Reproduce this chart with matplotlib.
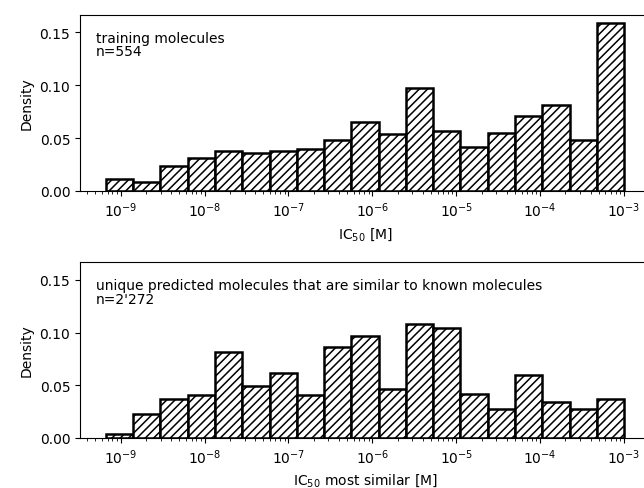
import numpy as np
import matplotlib
matplotlib.use("Agg")
import matplotlib.pyplot as plt

plt.rcParams["hatch.linewidth"] = 1.1

# log10 bin edges shared by both histograms
log_edges = np.linspace(-9.175, -3.0, 20)

# fraction of molecules per bin
training_values = [0.011, 0.0088, 0.0239, 0.0308, 0.0377, 0.0362, 0.0377, 0.0396,
                   0.0487, 0.0654, 0.0540, 0.0978, 0.0563, 0.0418, 0.0544, 0.0708,
                   0.0814, 0.0487, 0.1588]
predicted_values = [0.0035, 0.0224, 0.0369, 0.0406, 0.0819, 0.0488, 0.0614, 0.0403,
                    0.0863, 0.0970, 0.0466, 0.1077, 0.1040, 0.0419, 0.0271, 0.0592,
                    0.0337, 0.0271, 0.0372]

training_label = "training molecules\nn=554"
predicted_label = "unique predicted molecules that are similar to known molecules\nn=2'272"

edges = 10.0 ** log_edges
centers = np.sqrt(edges[:-1] * edges[1:])

fig = plt.figure(figsize=(6.44, 4.89), dpi=100)
ax1 = fig.add_axes([80 / 644, 1 - 192 / 489, 570 / 644, 176.3 / 489])
ax2 = fig.add_axes([80 / 644, 1 - 438.7 / 489, 570 / 644, 175.4 / 489], sharey=ax1)

panels = [
    (ax1, training_values, training_label, "IC$_{50}$ [M]"),
    (ax2, predicted_values, predicted_label, "IC$_{50}$ most similar [M]"),
]

for ax, values, label, xlabel in panels:
    ax.hist(centers, bins=edges, weights=values, facecolor="white",
            edgecolor="black", linewidth=1.8, hatch="////")
    ax.set_xscale("log")
    ax.set_ylabel("Density")
    ax.set_xlabel(xlabel)
    ax.text(0.028, 0.91, label, transform=ax.transAxes, va="top", ha="left",
            fontsize=10, linespacing=0.95)
    ax.set_yticks([0.0, 0.05, 0.10, 0.15])
    ax.spines["right"].set_visible(False)

ax1.autoscale(axis="y")

fig.savefig("out.png", dpi=100)
